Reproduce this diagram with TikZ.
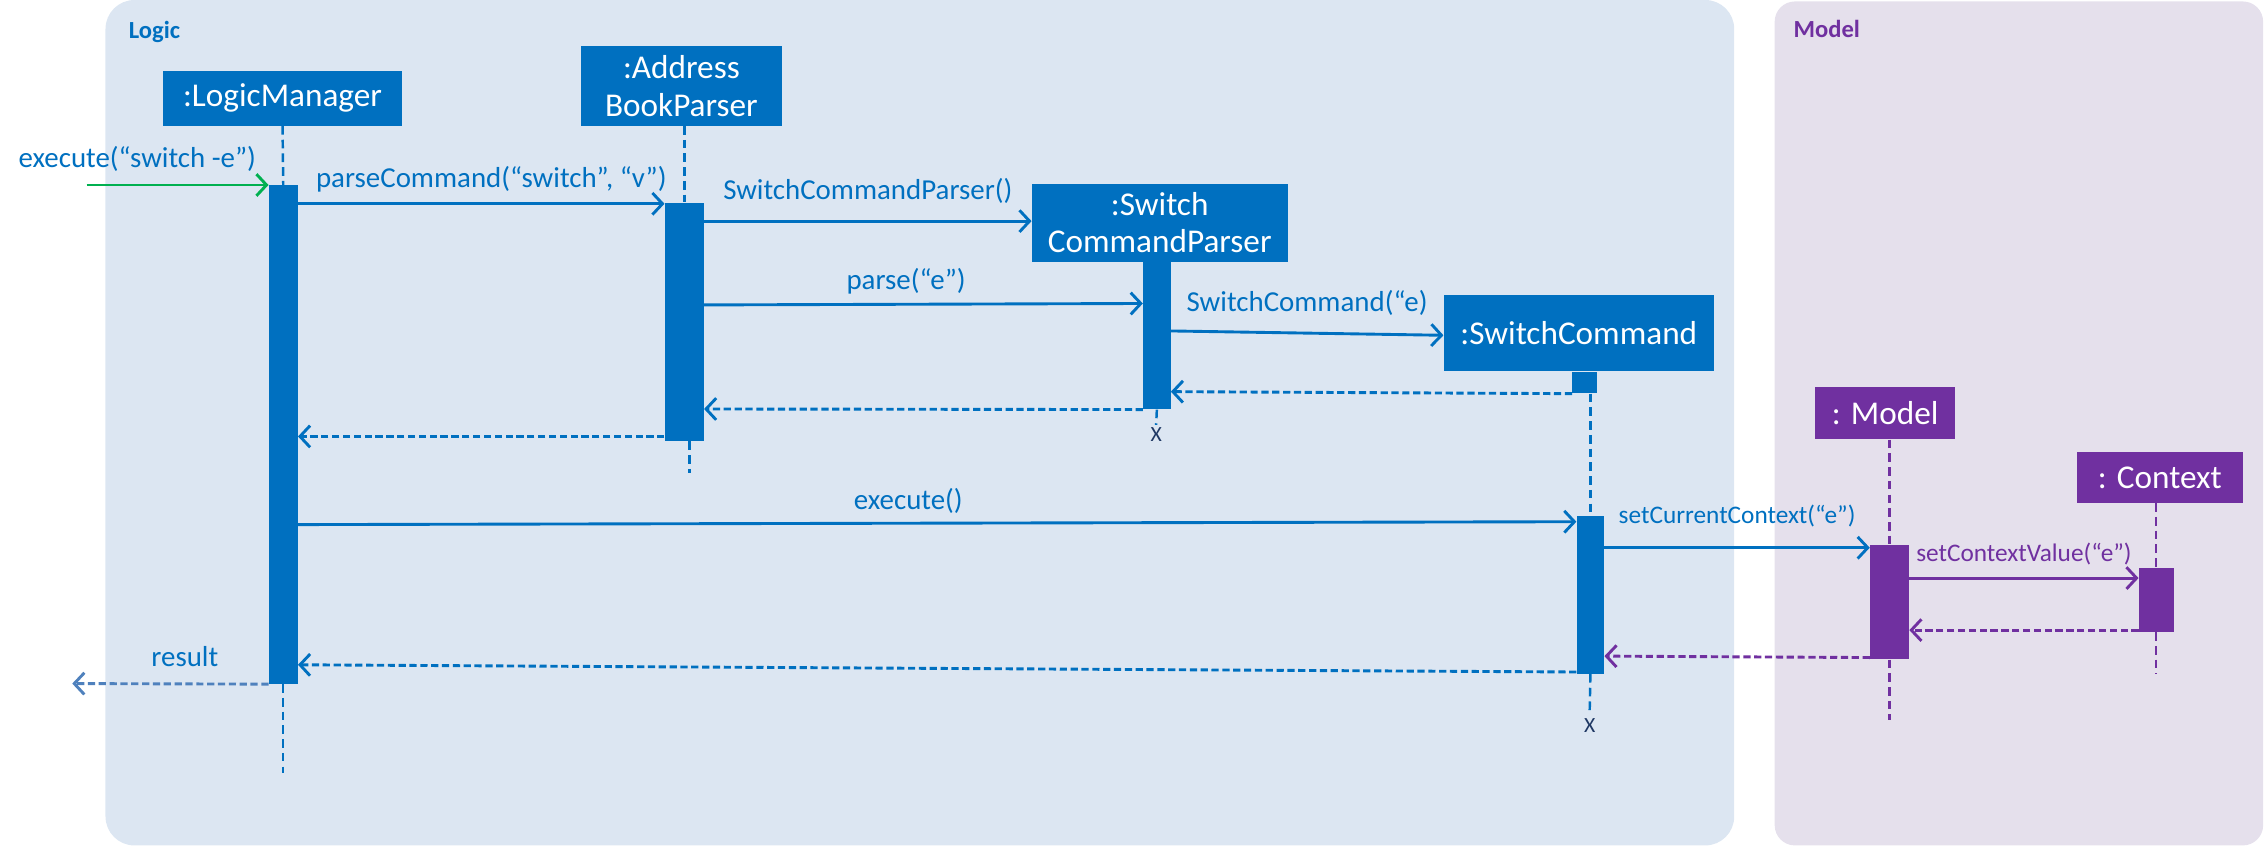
\documentclass[tikz,border=0pt]{standalone}
\usepackage{fontspec}
\setmainfont{Carlito}
\usetikzlibrary{arrows.meta}
\definecolor{cblue}{HTML}{0070C0}
\definecolor{cpurple}{HTML}{7030A0}
\definecolor{cgreen}{HTML}{00B050}
\definecolor{logicbg}{HTML}{DCE6F2}
\definecolor{modelbg}{HTML}{E5E0EC}
\definecolor{cres}{HTML}{4F81BD}
\definecolor{xcol}{HTML}{1F3864}
\tikzset{
  obj/.style={rectangle, fill=#1, text=white, font=\fontsize{23}{27}\selectfont, inner sep=0pt, align=center},
  act/.style={rectangle, fill=#1, inner sep=0pt},
  life/.style={draw=#1, line width=1.7pt, dash pattern=on 6pt off 3.5pt},
  msg/.style={draw=#1, line width=2pt, -{Straight Barb[length=7pt,width=15pt,line width=2pt]}},
  ret/.style={msg=#1, dash pattern=on 5pt off 2.5pt},
  lbl/.style={text=#1, font=\fontsize{20}{24}\selectfont, inner sep=0pt},
  slbl/.style={text=#1, font=\fontsize{17.5}{21}\selectfont, inner sep=0pt},
  xmark/.style={text=xcol, font=\fontsize{15}{17}\selectfont, inner sep=0pt},
  title/.style={text=#1, font=\bfseries\fontsize{17}{19}\selectfont, inner sep=0pt, anchor=west}
}
\begin{document}
\begin{tikzpicture}[x=1pt,y=-1pt]
\useasboundingbox (0,0) rectangle (1568,587);
% panels
\fill[logicbg, rounded corners=20pt] (73,0) rectangle (1200,585);
\fill[modelbg, rounded corners=14pt] (1228,1) rectangle (1566,585);
\node[title=cblue] (tlogic) at (89,22) {Logic};
\node[title=cpurple] (tmodel) at (1241,20) {Model};

% objects
\node[obj=cblue, minimum width=165pt, minimum height=38pt] (lm) at (195.5,68) {:LogicManager};
\node[obj=cblue, minimum width=139pt, minimum height=55pt] (abp) at (471.5,59.5) {:Address\\[-1pt]BookParser};
\node[obj=cblue, minimum width=177pt, minimum height=54pt] (scp) at (802.5,154) {:Switch\\[-1pt]CommandParser};
\node[obj=cblue, minimum width=187pt, minimum height=53pt] (sc) at (1092.5,230.5) {:SwitchCommand};
\node[obj=cpurple, minimum width=97pt, minimum height=36pt] (mo) at (1304.5,286) {: Model};
\node[obj=cpurple, minimum width=115pt, minimum height=35pt] (cx) at (1494.5,330.5) {: Context};

% activations
\node[act=cblue, minimum width=20pt, minimum height=345pt, anchor=north] (lmA) at (196,128) {};
\node[act=cblue, minimum width=27pt, minimum height=165pt, anchor=north] (abpA) at (473.5,140) {};
\node[act=cblue, minimum width=19pt, minimum height=102pt, anchor=north] (scpA) at (800.5,181) {};
\node[act=cblue, minimum width=17pt, minimum height=15pt, anchor=north] (scA0) at (1096.5,257) {};
\node[act=cblue, minimum width=19pt, minimum height=109pt, anchor=north] (scA) at (1100.5,357) {};
\node[act=cpurple, minimum width=27pt, minimum height=79pt, anchor=north] (moA) at (1307.5,377) {};
\node[act=cpurple, minimum width=24pt, minimum height=44pt, anchor=north] (cxA) at (1492,393) {};

% ends
\coordinate (lmEnd) at (196,535);
\coordinate (abpEnd) at (477,327);
\coordinate (moEnd) at (1307.5,498);
\coordinate (cxEnd) at (1492,466);
\node[xmark] (scpX) at (800,301) {X};
\node[xmark] (scX) at (1100,502) {X};

% lifelines
\draw[life=cblue] (lm.south) -- (lmA.north);
\draw[life=cblue] (lmA.south) -- (lmEnd);
\draw[life=cblue] (abp.south -| abpA) -- (abpA.north);
\draw[life=cblue] (abpA.south -| abpEnd) -- (abpEnd);
\draw[life=cblue] (scpA.south) -- ([yshift=2pt]scpX.north);
\draw[life=cblue] (scA0.south -| scA) -- (scA.north);
\draw[life=cblue] (scA.south) -- ([yshift=5pt]scX.north);
\draw[life=cpurple] (mo.south -| moA) -- (moA.north);
\draw[life=cpurple] (moA.south) -- (moEnd);
\draw[life=cpurple] (cx.south -| cxA) -- (cxA.north);
\draw[life=cpurple] (cxA.south) -- (cxEnd);

% messages
\coordinate (start) at (60,128);
\draw[msg=cgreen] (start) -- (lmA.north west);
\node[lbl=cblue] (l0) at (95,110) {execute(“switch -e”)};

\draw[msg=cblue] (lmA.east |- 0,141) -- (abpA.west |- 0,141)
  node[lbl=cblue, pos=0.5, above=7pt, xshift=7pt] {parseCommand(“switch”, “v”)};
\draw[msg=cblue] (abpA.east |- 0,153) -- (scp.west |- 0,153)
  node[lbl=cblue, pos=0.5, above=11pt] {SwitchCommandParser()};
\draw[msg=cblue] (abpA.east |- 0,211) -- (scpA.west |- 0,210)
  node[lbl=cblue, pos=0.5, above=6pt, xshift=-12pt] {parse(“e”)};
\draw[msg=cblue] (scpA.east |- 0,229) -- (sc.west |- 0,232)
  node[lbl=cblue, pos=0.5, above=11pt] {SwitchCommand(“e)};
\draw[ret=cblue] (scA0.south west) -- (scpA.east |- 0,271);
\draw[ret=cblue] (scpA.south west) -- (abpA.east |- 0,283);
\draw[ret=cblue] (abpA.west |- 0,302) -- (lmA.east |- 0,302);
\draw[msg=cblue] (lmA.east |- 0,363) -- (scA.west |- 0,361)
  node[lbl=cblue, pos=0.5, above=6pt, xshift=-20pt] {execute()};
\draw[msg=cblue] (scA.east |- 0,379) -- (moA.west |- 0,379)
  node[slbl=cblue, pos=0.5, above=13pt] {setCurrentContext(“e”)};
\draw[msg=cpurple] (moA.east |- 0,400) -- (cxA.west |- 0,400)
  node[slbl=cpurple, pos=0.5, above=8pt] {setContextValue(“e”)};
\draw[ret=cpurple] (cxA.west |- 0,436) -- (moA.east |- 0,436);
\draw[ret=cpurple] (moA.west |- 0,455) -- (scA.east |- 0,454);
\draw[ret=cblue] (scA.west |- 0,465) -- (lmA.east |- 0,460);
\coordinate (resEnd) at (50,473);
\draw[ret=cres] (lmA.south west) -- (resEnd)
  node[lbl=cblue, pos=0.5, above=11pt, xshift=10pt] {result};
\end{tikzpicture}
\end{document}
